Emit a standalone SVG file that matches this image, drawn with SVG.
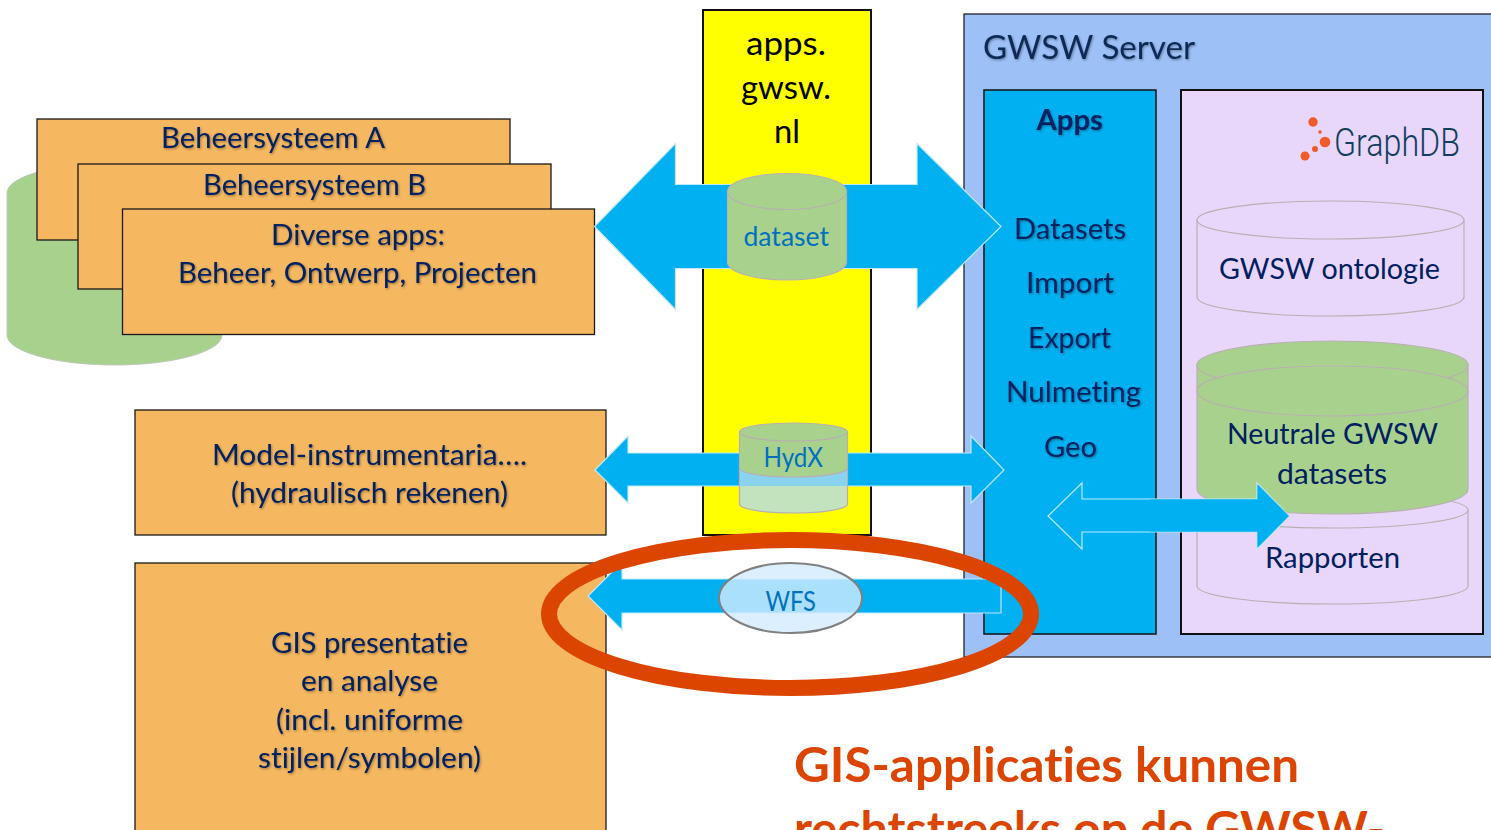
<svg xmlns="http://www.w3.org/2000/svg" width="1491" height="830" viewBox="0 0 1491 830">
<style>
text{font-family:Lato,"Open Sans","Liberation Sans",sans-serif;font-variant-ligatures:none}
.box{fill:#F5B75F;stroke:#1a1a1a;stroke-width:1.3}
.t{font-size:28px;fill:#002060}
.s{filter:url(#sh)}
.cy{stroke:#B8B0B0;stroke-width:1.2}
.g{fill:#A9D18E}
.p{fill:#E8D7FB}
.blue{font-size:27px;fill:#0070C0}
.arr{fill:#00B0F0;stroke:#BFE9FB;stroke-width:1.2}
</style>
<defs>
<filter id="sh" x="-5%" y="-20%" width="110%" height="150%"><feDropShadow dx="1" dy="1.2" stdDeviation="1" flood-color="#000" flood-opacity=".35"/></filter>
</defs>
<rect width="1491" height="830" fill="#fff"/>

<g id="server">
<rect x="964" y="14" width="540" height="643" fill="#9DC0F7" stroke="#222" stroke-width="1.3"/>
<text class="s" x="983" y="59" textLength="212" lengthAdjust="spacingAndGlyphs" style="font-size:33px;fill:#0C2A55">GWSW Server</text>
</g>
<g id="apps-panel">
<rect x="984" y="90" width="172" height="544" fill="#00B0F0" stroke="#111" stroke-width="1.5"/>
<text class="t s" x="1036.500" y="130" textLength="66.500" lengthAdjust="spacingAndGlyphs" font-weight="700">Apps</text>
<text class="t s" x="1014" y="239" textLength="112" lengthAdjust="spacingAndGlyphs">Datasets</text>
<text class="t s" x="1026" y="293" textLength="88" lengthAdjust="spacingAndGlyphs">Import</text>
<text class="t s" x="1028" y="348" textLength="83" lengthAdjust="spacingAndGlyphs">Export</text>
<text class="t s" x="1006" y="402" textLength="135" lengthAdjust="spacingAndGlyphs">Nulmeting</text>
<text class="t s" x="1044" y="457" textLength="53" lengthAdjust="spacingAndGlyphs">Geo</text>
</g>
<g id="graphdb-panel">
<rect x="1181" y="90" width="302" height="544" class="p" stroke="#111" stroke-width="2"/>
<g fill="#F15A29">
<circle cx="1313" cy="122" r="4.7"/><circle cx="1320" cy="132" r="1.8"/><circle cx="1325" cy="142" r="5.3"/><circle cx="1315" cy="149" r="3"/><circle cx="1305" cy="156" r="4.5"/>
</g>
<text x="1334" y="156" textLength="126" lengthAdjust="spacingAndGlyphs" style="font-family:Roboto,sans-serif;font-size:39px;font-weight:300;fill:#123F60">GraphDB</text>
</g>
<g id="cyl-ontologie">
<path class="cy p" d="M1197 220V297A133.500 19 0 0 0 1464 297V220Z"/>
<ellipse class="cy p" cx="1330.500" cy="220" rx="133.500" ry="19"/>
<text class="t" x="1219" y="279" textLength="221" lengthAdjust="spacingAndGlyphs">GWSW ontologie</text>
</g>
<g id="cyl-rapporten">
<path class="cy p" d="M1197 510V586A135.500 18 0 0 0 1468 586V510Z"/>
<ellipse class="cy p" cx="1332.500" cy="510" rx="135.500" ry="18"/>
<text class="t" x="1265" y="568" textLength="135" lengthAdjust="spacingAndGlyphs">Rapporten</text>
</g>
<g id="cyl-neutrale">
<path class="cy g" d="M1197 365V489A135.500 25 0 0 0 1468 489V365Z"/>
<ellipse class="cy g" cx="1332.500" cy="365" rx="135.500" ry="24"/>
<ellipse class="cy g" cx="1332.500" cy="391" rx="135.500" ry="25"/>
<text class="t" x="1227" y="444" textLength="211" lengthAdjust="spacingAndGlyphs">Neutrale GWSW</text>
<text class="t" x="1277" y="484" textLength="110" lengthAdjust="spacingAndGlyphs">datasets</text>
</g>
<g id="apps-gwsw">
<rect x="703" y="10" width="168" height="525" fill="#FFFF00" stroke="#111" stroke-width="2"/>
<text x="746" y="55" textLength="80" lengthAdjust="spacingAndGlyphs" style="font-size:33px;fill:#000">apps.</text>
<text x="741" y="99" textLength="90" lengthAdjust="spacingAndGlyphs" style="font-size:33px;fill:#000">gwsw.</text>
<text x="774" y="143" textLength="26" lengthAdjust="spacingAndGlyphs" style="font-size:33px;fill:#000">nl</text>
</g>
<g id="cyl-back">
<path class="g" d="M7 193V335A107.500 30 0 0 0 222 335V193A107.500 30 0 0 0 7 193Z" stroke="#C0C8B8" stroke-width="1"/>
</g>
<g id="beheersysteem-a">
<rect class="box" x="37" y="119" width="473" height="121"/>
<text class="t s" x="161" y="148" textLength="224" lengthAdjust="spacingAndGlyphs">Beheersysteem A</text>
</g>
<g id="beheersysteem-b">
<rect class="box" x="78" y="164" width="473" height="125"/>
<text class="t s" x="203" y="195" textLength="223" lengthAdjust="spacingAndGlyphs">Beheersysteem B</text>
</g>
<g id="diverse-apps">
<rect class="box" x="122.500" y="209" width="472" height="125.500"/>
<text class="t s" x="271" y="245" textLength="174" lengthAdjust="spacingAndGlyphs">Diverse apps:</text>
<text class="t s" x="178" y="283" textLength="359" lengthAdjust="spacingAndGlyphs">Beheer, Ontwerp, Projecten</text>
</g>
<g id="model">
<rect class="box" x="135" y="410" width="471" height="125"/>
<text class="t s" x="212" y="465" textLength="315" lengthAdjust="spacingAndGlyphs">Model-instrumentaria….</text>
<text class="t s" x="231" y="503" textLength="277" lengthAdjust="spacingAndGlyphs">(hydraulisch rekenen)</text>
</g>
<g id="gis">
<rect class="box" x="135" y="563" width="471" height="290"/>
<text class="t s" x="271" y="653" textLength="197" lengthAdjust="spacingAndGlyphs">GIS presentatie</text>
<text class="t s" x="301" y="691" textLength="137" lengthAdjust="spacingAndGlyphs">en analyse</text>
<text class="t s" x="276" y="730" textLength="187" lengthAdjust="spacingAndGlyphs">(incl. uniforme</text>
<text class="t s" x="258" y="768" textLength="223" lengthAdjust="spacingAndGlyphs">stijlen/symbolen)</text>
</g>

<g id="connectors">
<path class="arr" d="M594.500 226.500L675.500 143.500V184.500H917V143.500L1001 226.500L917 309.500V268.500H675.500V309.500Z"/>
<path class="arr" d="M595 470L628 436V453H971V436L1004 470L971 503V486H628V503Z"/>
<path class="arr" d="M1048 516L1082 483V499H1257V483L1289 516L1257 549V532H1082V549Z"/>
<path fill="#00B0F0" d="M1150 499.600H1257.600V484.500L1289 516L1257.600 547.500V531.400H1150Z"/>
<path class="arr" d="M588 596L622 562V579H1001V613H622V630Z"/>
</g>

<g id="cyl-dataset">
<path class="cy g" d="M727.500 191.500V262A59.500 18 0 0 0 846.500 262V191.500Z"/>
<ellipse class="cy g" cx="787" cy="191.500" rx="59.500" ry="18"/>
<text class="blue" x="743.500" y="246" textLength="85.500" lengthAdjust="spacingAndGlyphs">dataset</text>
</g>
<g id="cyl-hydx">
<path d="M739.500 468V504A54 9 0 0 0 847.500 504V468Z" fill="#C3E3BE" stroke="#B8B0B0" stroke-width="1.2"/>
<rect x="740" y="468" width="107" height="18" fill="#8AD3EE"/>
<path class="cy g" d="M739.500 432V468A54 9 0 0 0 847.500 468V432Z"/>
<ellipse class="cy g" cx="793.500" cy="432" rx="54" ry="9"/>
<text class="blue" x="763.500" y="467" textLength="59.500" lengthAdjust="spacingAndGlyphs">HydX</text>
</g>
<g id="wfs">
<ellipse cx="790.500" cy="598" rx="71.500" ry="35" fill="#D3EBFF" fill-opacity=".81" stroke="#808080" stroke-width="2"/>
<text class="blue" x="765.500" y="611" textLength="50.500" lengthAdjust="spacingAndGlyphs">WFS</text>
</g>
<g id="highlight">
<ellipse cx="790" cy="614" rx="241" ry="74" fill="none" stroke="#DB4500" stroke-width="16"/>
</g>
<g id="caption" font-weight="700" fill="#DB4500">
<text x="794" y="781.500" textLength="505" lengthAdjust="spacingAndGlyphs" style="font-size:47px">GIS-applicaties kunnen</text>
<text x="794" y="846" textLength="591" lengthAdjust="spacingAndGlyphs" style="font-size:47px">rechtstreeks op de GWSW-</text>
</g>
</svg>
